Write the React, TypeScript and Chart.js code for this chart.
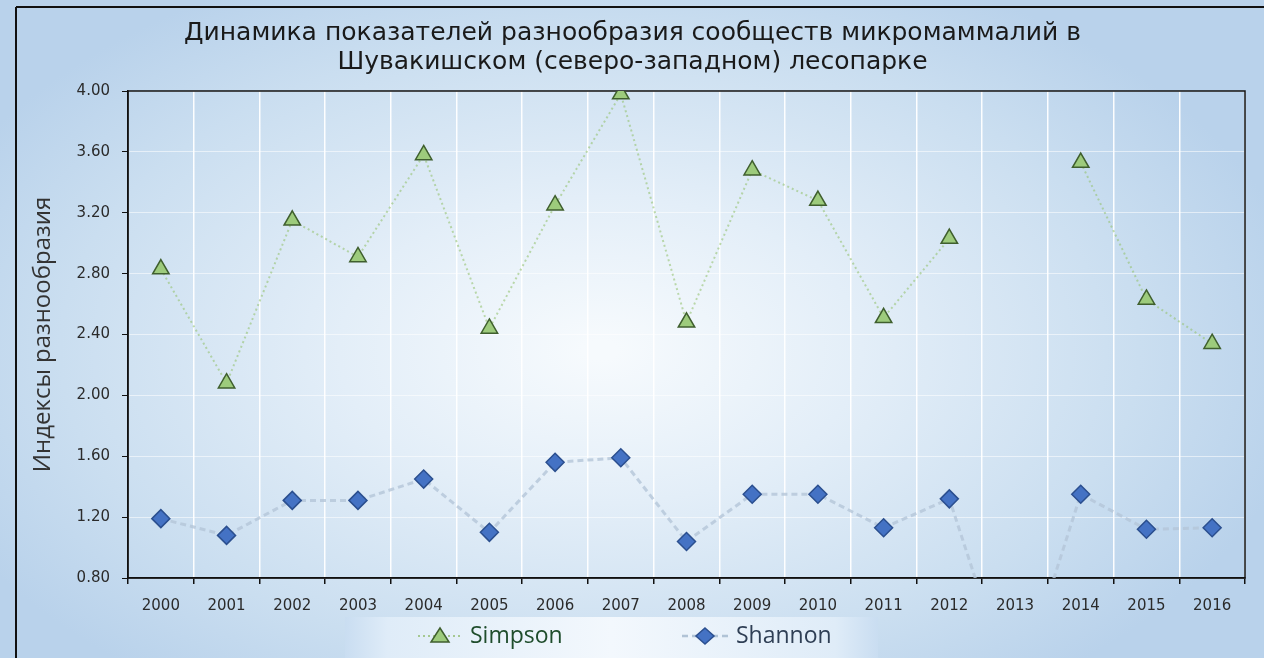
import { useEffect, useRef } from 'react';
import { Chart, registerables } from 'chart.js';

Chart.register(...registerables);

const years = ['2000', '2001', '2002', '2003', '2004', '2005', '2006', '2007', '2008', '2009', '2010', '2011', '2012', '2013', '2014', '2015', '2016'];
const simpson = [2.83, 2.08, 3.15, 2.91, 3.58, 2.44, 3.25, 3.98, 2.48, 3.48, 3.28, 2.51, 3.03, null, 3.53, 2.63, 2.34];
const shannon = [1.19, 1.08, 1.31, 1.31, 1.45, 1.10, 1.56, 1.59, 1.04, 1.35, 1.35, 1.13, 1.32, 0, 1.35, 1.12, 1.13];
const yTicks = [0.8, 1.2, 1.6, 2.0, 2.4, 2.8, 3.2, 3.6, 4.0];
const titleLines = ['Динамика показателей разнообразия сообществ микромаммалий в', 'Шувакишском (северо-западном) лесопарке'];
const yTitle = 'Индексы разнообразия';
const seriesNames = ['Simpson', 'Shannon'];

const TITLE_FONT = "'DejaVu Sans', sans-serif";
const TICK_FONT = "'DejaVu Sans', sans-serif";

const bgPlugin = {
  id: 'bgPlugin',
  beforeDraw(chart: any) {
    const ctx = chart.ctx;
    const W = chart.width, H = chart.height;
    ctx.save();
    ctx.fillStyle = '#ffffff';
    ctx.fillRect(0, 0, W, H);
    ctx.save();
    ctx.translate(600, 350);
    ctx.scale(1.7, 1);
    const g = ctx.createRadialGradient(0, 0, 10, 0, 0, 420);
    g.addColorStop(0, '#f6fafd');
    g.addColorStop(0.35, '#e3eef8');
    g.addColorStop(0.75, '#cadef0');
    g.addColorStop(1, '#b9d2eb');
    ctx.fillStyle = g;
    ctx.fillRect(-600 / 1.7, -350, W / 1.7 + 10, H + 10);
    ctx.restore();
    ctx.strokeStyle = '#111';
    ctx.lineWidth = 2;
    ctx.beginPath();
    ctx.moveTo(16, 7);
    ctx.lineTo(W, 7);
    ctx.moveTo(16, 7);
    ctx.lineTo(16, H);
    ctx.stroke();

    // legend backdrop
    const lg = ctx.createLinearGradient(345, 0, 878, 0);
    lg.addColorStop(0, '#c9ddf1');
    lg.addColorStop(0.08, '#dfecf8');
    lg.addColorStop(0.5, '#f3f8fd');
    lg.addColorStop(0.92, '#dfecf8');
    lg.addColorStop(1, '#c9ddf1');
    ctx.fillStyle = lg;
    ctx.fillRect(345, 617, 533, 41);
    ctx.restore();
  },
  beforeDatasetsDraw(chart: any) {
    const { ctx, chartArea } = chart;
    ctx.save();
    ctx.strokeStyle = '#111';
    ctx.lineWidth = 1.5;
    ctx.strokeRect(chartArea.left, chartArea.top, chartArea.right - chartArea.left, chartArea.bottom - chartArea.top);
    ctx.restore();
  },
  afterDraw(chart: any) {
    const ctx = chart.ctx;
    const y = 636;
    ctx.save();
    // Simpson item
    ctx.strokeStyle = 'rgba(150,190,120,0.8)';
    ctx.lineWidth = 2;
    ctx.setLineDash([2, 3]);
    ctx.beginPath();
    ctx.moveTo(418, y);
    ctx.lineTo(462, y);
    ctx.stroke();
    ctx.setLineDash([]);
    ctx.beginPath();
    ctx.moveTo(440, y - 8);
    ctx.lineTo(449, y + 6);
    ctx.lineTo(431, y + 6);
    ctx.closePath();
    ctx.fillStyle = '#9dcb7c';
    ctx.fill();
    ctx.strokeStyle = '#3f5f2e';
    ctx.lineWidth = 1.5;
    ctx.stroke();
    ctx.font = "23px 'Open Sans', sans-serif";
    ctx.textBaseline = 'middle';
    ctx.fillStyle = '#1f4d2c';
    ctx.fillText(seriesNames[0], 470, y);
    // Shannon item
    ctx.strokeStyle = 'rgba(170,190,210,0.9)';
    ctx.lineWidth = 2.5;
    ctx.setLineDash([6, 4]);
    ctx.beginPath();
    ctx.moveTo(682, y);
    ctx.lineTo(728, y);
    ctx.stroke();
    ctx.setLineDash([]);
    ctx.beginPath();
    ctx.moveTo(705, y - 8);
    ctx.lineTo(714, y);
    ctx.lineTo(705, y + 8);
    ctx.lineTo(696, y);
    ctx.closePath();
    ctx.fillStyle = '#4472c4';
    ctx.fill();
    ctx.strokeStyle = '#2b4f8f';
    ctx.lineWidth = 1.5;
    ctx.stroke();
    ctx.fillStyle = '#2f3f55';
    ctx.fillText(seriesNames[1], 736, y);
    ctx.restore();
  },
};

export default function App() {
  const ref = useRef<HTMLCanvasElement | null>(null);
  useEffect(() => {
    if (!ref.current) return;
    const chart = new Chart(ref.current, {
      type: 'line',
      data: {
        labels: years,
        datasets: [
          {
            label: seriesNames[0],
            data: simpson,
            borderColor: 'rgba(150,195,115,0.6)',
            borderWidth: 2,
            borderDash: [2, 3],
            pointStyle: 'triangle',
            pointRadius: 9.5,
            pointBackgroundColor: '#9dcb7c',
            pointBorderColor: '#3f5f2e',
            pointBorderWidth: 1.5,
            spanGaps: false,
            tension: 0,
          },
          {
            label: seriesNames[1],
            data: shannon,
            borderColor: 'rgba(180,198,216,0.8)',
            borderWidth: 3,
            borderDash: [6, 4],
            pointStyle: 'rectRot',
            pointRadius: 9,
            pointBackgroundColor: '#4472c4',
            pointBorderColor: '#2b4f8f',
            pointBorderWidth: 1.5,
            tension: 0,
          },
        ],
      },
      options: {
        responsive: false,
        animation: false,
        events: [],
        devicePixelRatio: 1,
        layout: { padding: { left: 20, right: 19, top: 7, bottom: 44 } },
        plugins: {
          legend: { display: false },
          tooltip: { enabled: false },
          title: {
            display: true,
            text: titleLines,
            color: '#1a1a1a',
            font: { family: TITLE_FONT, size: 25, weight: 'normal', lineHeight: 1.16 },
            padding: { top: 12, bottom: 14 },
          },
        },
        scales: {
          x: {
            offset: true,
            grid: { offset: true, color: 'rgba(255,255,255,0.95)', lineWidth: 1.5, tickColor: '#111', tickLength: 6, drawTicks: true },
            border: { color: '#111', width: 1.5 },
            ticks: { color: '#2b2b2b', font: { family: TICK_FONT, size: 15 }, padding: 13, maxRotation: 0, autoSkip: false },
            afterFit: (s: any) => { s.height = 36; },
          },
          y: {
            min: 0.8,
            max: 4.0,
            afterBuildTicks: (s: any) => { s.ticks = yTicks.map((v) => ({ value: v })); },
            grid: { color: 'rgba(255,255,255,0.55)', lineWidth: 1, tickColor: '#111', tickLength: 6 },
            border: { color: '#111', width: 1.5 },
            ticks: { color: '#2b2b2b', font: { family: TICK_FONT, size: 15 }, padding: 12, callback: (v: any) => Number(v).toFixed(2) },
            title: { display: true, text: yTitle, color: '#333', font: { family: "'Open Sans', sans-serif", size: 24, weight: 'normal', lineHeight: 1.2 }, padding: { top: 9, bottom: 0 } },
            afterFit: (s: any) => { s.width = 108; },
          },
        },
      },
      plugins: [bgPlugin],
    });
    return () => chart.destroy();
  }, []);
  return (
    <div style={{ position: 'fixed', left: 0, top: 0, width: 1264, height: 658 }}>
      <canvas ref={ref} width={1264} height={658} style={{ display: 'block', width: 1264, height: 658 }} />
    </div>
  );
}
